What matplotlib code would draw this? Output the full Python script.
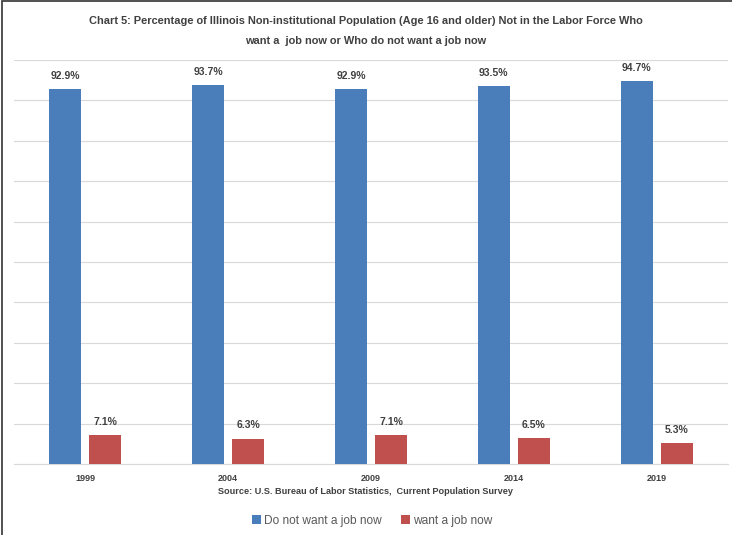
import matplotlib
matplotlib.use("Agg")
import matplotlib.pyplot as plt
from matplotlib.patches import Rectangle
import numpy as np

# chart data
years = ["1999", "2004", "2009", "2014", "2019"]
not_want = [92.9, 93.7, 92.9, 93.5, 94.7]
want = [7.1, 6.3, 7.1, 6.5, 5.3]

blue = "#4a7ebb"
red = "#c0504d"
txt = "#404040"

plt.rcParams["font.family"] = ["Liberation Sans", "DejaVu Sans"]

fig = plt.figure(figsize=(7.32, 5.35), dpi=100)
ax = fig.add_axes([14/732, 1 - 464/535, 714/732, 404/535])

x = np.arange(len(years))
w = 0.224
off = 0.14
b1 = ax.bar(x - off, not_want, w, color=blue, label="Do not want a job now", zorder=3)
b2 = ax.bar(x + off, want, w, color=red, label="want a job now", zorder=3)

for bars, vals in ((b1, not_want), (b2, want)):
    for r, v in zip(bars, vals):
        ax.text(r.get_x() + r.get_width()/2, v + 2.0, f"{v:.1f}%",
                ha="center", va="bottom", fontsize=7.5, fontweight="bold", color=txt)

ax.set_ylim(0, 100)
ax.set_xlim(-0.5, len(years) - 0.5)
ax.set_yticks(np.arange(0, 101, 10))
ax.set_yticklabels([])
ax.tick_params(axis="y", length=0)
ax.tick_params(axis="x", length=0, pad=7)
ax.set_xticks(x)
ax.set_xticklabels(years, fontsize=6.5, fontweight="bold", color=txt)
ax.grid(axis="y", color="#d9d9d9", linewidth=0.8, zorder=0)
for s in ("top", "right", "left"):
    ax.spines[s].set_visible(False)
ax.spines["bottom"].set_color("#d9d9d9")

fig.text(0.5, 1 - 21/535, "Chart 5: Percentage of Illinois Non-institutional Population (Age 16 and older) Not in the Labor Force Who",
         ha="center", va="center", fontsize=7.9, fontweight="bold", color=txt)
fig.text(0.5, 1 - 41/535, "want a  job now or Who do not want a job now",
         ha="center", va="center", fontsize=7.9, fontweight="bold", color=txt)
fig.text(0.5, 1 - 492/535, "Source: U.S. Bureau of Labor Statistics,  Current Population Survey",
         ha="center", va="center", fontsize=6.6, fontweight="bold", color=txt)

fig.legend(handles=[b1, b2], loc="center", bbox_to_anchor=(0.508, 1 - 521/535),
           ncol=2, frameon=False, fontsize=8.6, handlelength=0.75, handleheight=0.75,
           handletextpad=0.25, columnspacing=1.6, labelcolor="#595959")

# outer chart frame (left and top edges visible)
fig.patches.append(Rectangle((2/732, -0.05), 2, 1.05 - 1/535, transform=fig.transFigure,
                             fill=False, edgecolor="#333333", linewidth=1.2))

fig.savefig("out.png", dpi=100)
